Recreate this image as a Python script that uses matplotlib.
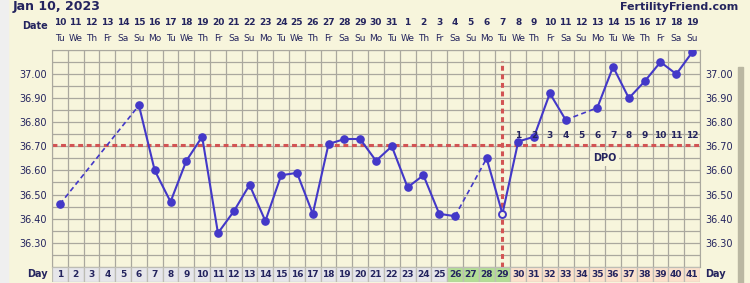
import matplotlib
matplotlib.use('Agg')
import matplotlib.pyplot as plt
from matplotlib.patches import Rectangle
from matplotlib.transforms import blended_transform_factory

# cycle data
days = list(range(1, 42))
temps = [36.46, None, None, None, None, 36.87, 36.60, 36.47, 36.64, 36.74,
         36.34, 36.43, 36.54, 36.39, 36.58, 36.59, 36.42, 36.71, 36.73, 36.73,
         36.64, 36.70, 36.53, 36.58, 36.42, 36.41, None, 36.65, 36.42, 36.72,
         36.74, 36.92, 36.81, None, 36.86, 37.03, 36.90, 36.97, 37.05, 37.00,
         37.09]
dates = [str(d) for d in range(10, 32)] + [str(d) for d in range(1, 20)]
weekdays = ['Tu', 'We', 'Th', 'Fr', 'Sa', 'Su', 'Mo'] * 6
coverline = 36.705
ovulation_day = 29
dpo_days = list(range(30, 42))
fertile_days = [26, 27, 28, 29]
ytick_vals = [36.30, 36.40, 36.50, 36.60, 36.70, 36.80, 36.90, 37.00]

bg = '#f7f5dc'
navy = '#24245e'
blue = '#4338c8'
red = '#d25454'
gridc = '#aaa89e'

W, H = 750, 283
fig = plt.figure(figsize=(7.5, 2.83), dpi=100)
fig.patch.set_facecolor(bg)

def fx(x):
    return x / W

def fy(y):
    return 1 - y / H

# page chrome
fig.patches.append(Rectangle((0, 0), fx(8), 1, transform=fig.transFigure,
                             color='#efefef', zorder=0))
fig.patches.append(Rectangle((fx(738), 0), fx(5), fy(67), transform=fig.transFigure,
                             color='#bab7a2', zorder=0))

top, bot = 50, 266.8
ax = fig.add_axes([fx(52), fy(bot), fx(648), (bot - top) / H])
ax.set_facecolor(bg)
ax.set_xlim(0.5, 41.5)
ax.set_ylim(36.20, 37.10)

for k in range(42):
    ax.axvline(0.5 + k, color=gridc, lw=0.9, zorder=1)
y = 36.20
while y < 37.11:
    ax.axhline(y, color=gridc, lw=0.9, zorder=1)
    y += 0.05
for s in ax.spines.values():
    s.set_color(gridc)

ax.set_xticks([])
ax.set_yticks(ytick_vals)
ax.set_yticklabels(['%.2f' % v for v in ytick_vals])
ax.tick_params(axis='y', length=0, pad=4, labelsize=7, labelcolor=navy,
               left=False, right=False, labelleft=True, labelright=True)

# coverline and ovulation
ax.axhline(coverline, color=red, lw=2.2, ls=(0, (1.6, 1.2)), zorder=2)
ax.axvline(ovulation_day, ymax=0.95, color=red, lw=2.2, ls=(0, (1.6, 1.2)), zorder=2)

# temperature line
pts = [(d, t) for d, t in zip(days, temps) if t is not None]
for (d0, t0), (d1, t1) in zip(pts[:-1], pts[1:]):
    if d1 - d0 == 1:
        ax.plot([d0, d1], [t0, t1], color=blue, lw=1.5, zorder=3)
    else:
        ax.plot([d0, d1], [t0, t1], color=blue, lw=1.2, ls=(0, (3, 2)), zorder=3)
for d, t in pts:
    if d == ovulation_day:
        ax.plot(d, t, 'o', ms=5, mfc=bg, mec=blue, mew=1.4, zorder=4)
    else:
        ax.plot(d, t, 'o', ms=5.2, color=blue, zorder=4)

# DPO labels
for i, d in enumerate(dpo_days):
    ax.text(d, 36.745, str(i + 1), ha='center', va='center', fontsize=6.5,
            fontweight='bold', color=navy, zorder=5)
ax.text(35.45, 36.65, 'DPO', ha='center', va='center', fontsize=7,
        fontweight='bold', color=navy, zorder=5,
        bbox=dict(facecolor=bg, edgecolor='none', pad=2))

# date header
tr = blended_transform_factory(ax.transData, ax.transAxes)
ah = bot - top
for d, lab, wd in zip(days, dates, weekdays):
    ax.text(d, (bot - 22.5) / ah, lab, transform=tr, ha='center', va='center',
            fontsize=6.5, fontweight='bold', color=navy)
    ax.text(d, (bot - 38.3) / ah, wd, transform=tr, ha='center', va='center',
            fontsize=6.5, color=navy)

fig.text(fx(48), fy(26), 'Date', ha='right', va='center', fontsize=7,
         fontweight='bold', color=navy)
fig.text(fx(13), fy(6.5), 'Jan 10, 2023', ha='left', va='center', fontsize=9,
         fontweight='bold', color=navy)
fig.text(fx(738), fy(6.5), 'FertilityFriend.com', ha='right', va='center', fontsize=8,
         fontweight='bold', color=navy)

# day row
ax2 = fig.add_axes([fx(52), fy(282), fx(648), 15.5 / H])
ax2.set_xlim(0.5, 41.5)
ax2.set_ylim(0, 1)
cell_colors = []
for d in days:
    if d in fertile_days:
        cell_colors.append('#b3dd96')
    elif d >= dpo_days[0]:
        cell_colors.append('#fbe1cc')
    else:
        cell_colors.append('#e6e6ea')
ax2.bar(days, 1, width=1, bottom=0, color=cell_colors, edgecolor='#bdbdb5', lw=0.9)
for d in days:
    ax2.text(d, 0.5, str(d), ha='center', va='center', fontsize=6.5,
             fontweight='bold', color=navy)
ax2.axis('off')
fig.text(fx(48), fy(274), 'Day', ha='right', va='center', fontsize=7,
         fontweight='bold', color=navy)
fig.text(fx(705), fy(274), 'Day', ha='left', va='center', fontsize=7,
         fontweight='bold', color=navy)

fig.savefig('out.png', dpi=100, facecolor=fig.get_facecolor())
